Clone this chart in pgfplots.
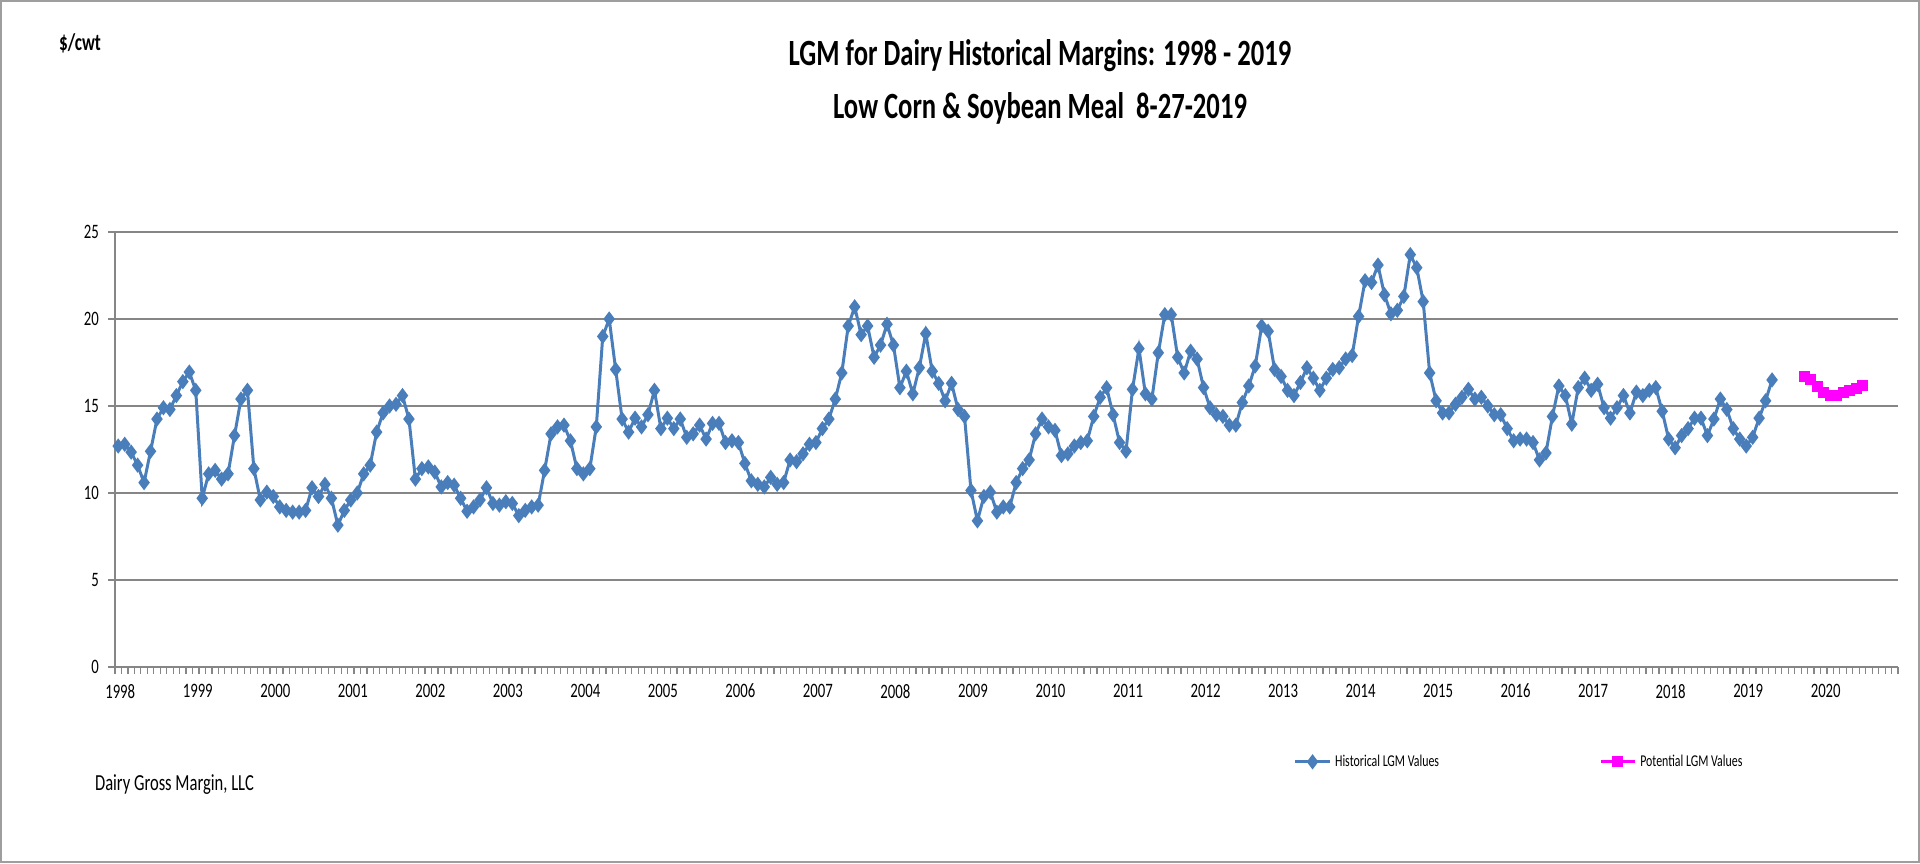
\documentclass[border=0pt]{standalone}
\usepackage{fontspec}
\setmainfont{Carlito}[FakeStretch=0.72]
\usepackage{pgfplots}
\usepackage{pgfplotstable}
\pgfplotsset{compat=1.18}
\definecolor{histblue}{HTML}{4A7EBB}
\definecolor{potmag}{HTML}{FF00FF}
\definecolor{gridgray}{HTML}{868686}
\pgfplotstableread{
m v
0 12.7
1 12.8
2 12.35
3 11.6
4 10.6
5 12.4
6 14.25
7 14.9
8 14.8
9 15.6
10 16.4
11 16.95
12 15.9
13 9.7
14 11.1
15 11.3
16 10.8
17 11.1
18 13.3
19 15.4
20 15.9
21 11.4
22 9.6
23 10.05
24 9.8
25 9.2
26 9.0
27 8.9
28 8.9
29 9.0
30 10.3
31 9.8
32 10.5
33 9.7
34 8.15
35 9.0
36 9.6
37 10.0
38 11.1
39 11.6
40 13.5
41 14.6
42 15.0
43 15.1
44 15.6
45 14.25
46 10.8
47 11.4
48 11.5
49 11.2
50 10.35
51 10.6
52 10.45
53 9.7
54 8.95
55 9.2
56 9.6
57 10.3
58 9.4
59 9.3
60 9.5
61 9.4
62 8.7
63 9.0
64 9.2
65 9.3
66 11.3
67 13.4
68 13.8
69 13.9
70 13.0
71 11.4
72 11.1
73 11.4
74 13.8
75 19.0
76 20.0
77 17.1
78 14.25
79 13.5
80 14.3
81 13.8
82 14.5
83 15.9
84 13.7
85 14.3
86 13.7
87 14.25
88 13.2
89 13.4
90 13.9
91 13.1
92 14.0
93 14.0
94 12.9
95 13.0
96 12.9
97 11.7
98 10.7
99 10.5
100 10.35
101 10.9
102 10.5
103 10.6
104 11.9
105 11.8
106 12.25
107 12.8
108 12.9
109 13.7
110 14.25
111 15.4
112 16.9
113 19.6
114 20.7
115 19.1
116 19.6
117 17.8
118 18.5
119 19.7
120 18.5
121 16.05
122 17.0
123 15.7
124 17.2
125 19.16
126 17.0
127 16.3
128 15.3
129 16.3
130 14.8
131 14.4
132 10.15
133 8.4
134 9.8
135 10.05
136 8.9
137 9.2
138 9.2
139 10.6
140 11.4
141 11.9
142 13.4
143 14.25
144 13.8
145 13.6
146 12.15
147 12.25
148 12.7
149 12.9
150 13.0
151 14.4
152 15.5
153 16.05
154 14.5
155 12.9
156 12.4
157 15.96
158 18.3
159 15.7
160 15.4
161 18.06
162 20.25
163 20.25
164 17.8
165 16.9
166 18.15
167 17.7
168 16.06
169 14.9
170 14.5
171 14.4
172 13.9
173 13.9
174 15.2
175 16.15
176 17.3
177 19.6
178 19.3
179 17.1
180 16.7
181 15.9
182 15.6
183 16.35
184 17.2
185 16.6
186 15.9
187 16.6
188 17.1
189 17.2
190 17.7
191 17.9
192 20.15
193 22.2
194 22.1
195 23.1
196 21.4
197 20.3
198 20.5
199 21.3
200 23.7
201 22.95
202 21.0
203 16.9
204 15.3
205 14.6
206 14.6
207 15.1
208 15.5
209 15.96
210 15.4
211 15.5
212 15.0
213 14.5
214 14.5
215 13.7
216 13.0
217 13.1
218 13.1
219 12.9
220 11.9
221 12.3
222 14.4
223 16.15
224 15.6
225 13.96
226 16.06
227 16.6
228 15.9
229 16.25
230 14.9
231 14.3
232 14.9
233 15.6
234 14.6
235 15.8
236 15.6
237 15.9
238 16.06
239 14.7
240 13.1
241 12.6
242 13.3
243 13.7
244 14.3
245 14.3
246 13.3
247 14.25
248 15.4
249 14.8
250 13.7
251 13.1
252 12.7
253 13.2
254 14.3
255 15.3
256 16.5
}\histtable
\pgfplotstableread{
m v
261 16.7
262 16.5
263 16.1
264 15.8
265 15.6
266 15.6
267 15.8
268 15.9
269 16.0
270 16.15
}\pottable
\begin{document}
\begin{tikzpicture}
\path[use as bounding box] (0,0) rectangle (960pt,431.5pt);
\draw[gridgray!80, line width=1pt] (0.5pt,0.5pt) rectangle (959.5pt,431pt);
\begin{axis}[
  at={(57.5pt,98pt)}, anchor=south west,
  width=891.5pt, height=217.5pt, scale only axis,
  xmin=-0.5, xmax=275.5, ymin=0, ymax=25,
  axis x line*=bottom, axis y line*=left,
  axis line style={gridgray, line width=0.8pt},
  xtick={-0.5,0.5,...,275.5},
  xticklabels={},
  extra x ticks={0,12,...,264},
  extra x tick labels={1998,1999,2000,2001,2002,2003,2004,2005,2006,2007,2008,2009,2010,2011,2012,2013,2014,2015,2016,2017,2018,2019,2020},
  extra x tick style={major tick length=0pt, xticklabel style={yshift=-5pt, xshift=1pt}},
  ytick={0,5,...,25},
  tick align=outside,
  major tick length=3.5pt,
  xtick style={gridgray, line width=0.6pt},
  ytick style={gridgray, line width=0.8pt},
  ymajorgrids, major grid style={gridgray, line width=0.8pt},
  /pgf/number format/assume math mode=true,
  tick label style={font=\fontsize{10.25pt}{12pt}\selectfont, black},
  yticklabel style={xshift=-1pt},
  legend style={at={(0.661,-0.218)}, anchor=west, draw=none, fill=none,
    inner sep=0pt, legend columns=2,
    font=\fontsize{8.25pt}{10pt}\selectfont,
    /tikz/every even column/.append style={column sep=78pt}},
  legend cell align=left,
  clip=false,
]
\addplot[histblue, line width=1.5pt, mark=diamond*, mark size=2.6pt, mark options={solid, fill=histblue}] table[x=m, y=v] {\histtable};
\addlegendentry{Historical LGM Values}
\addplot[potmag, line width=1.5pt, mark=square*, mark size=2pt, mark options={solid, fill=potmag}] table[x=m, y=v] {\pottable};
\addlegendentry{Potential LGM Values}
\end{axis}
\node[font=\fontsize{18.5pt}{22pt}\selectfont\bfseries] at (520pt,403.5pt) {LGM for Dairy Historical Margins: 1998 - 2019};
\node[font=\fontsize{18.5pt}{22pt}\selectfont\bfseries] at (520pt,377.5pt) {Low Corn \& Soybean Meal\ \ 8-27-2019};
\node[font=\fontsize{12pt}{14pt}\selectfont\bfseries] at (40pt,410pt) {\$/cwt};
\node[font=\fontsize{11.5pt}{13pt}\selectfont, anchor=west] at (44pt,39pt) {Dairy Gross Margin, LLC};
\end{tikzpicture}
\end{document}
